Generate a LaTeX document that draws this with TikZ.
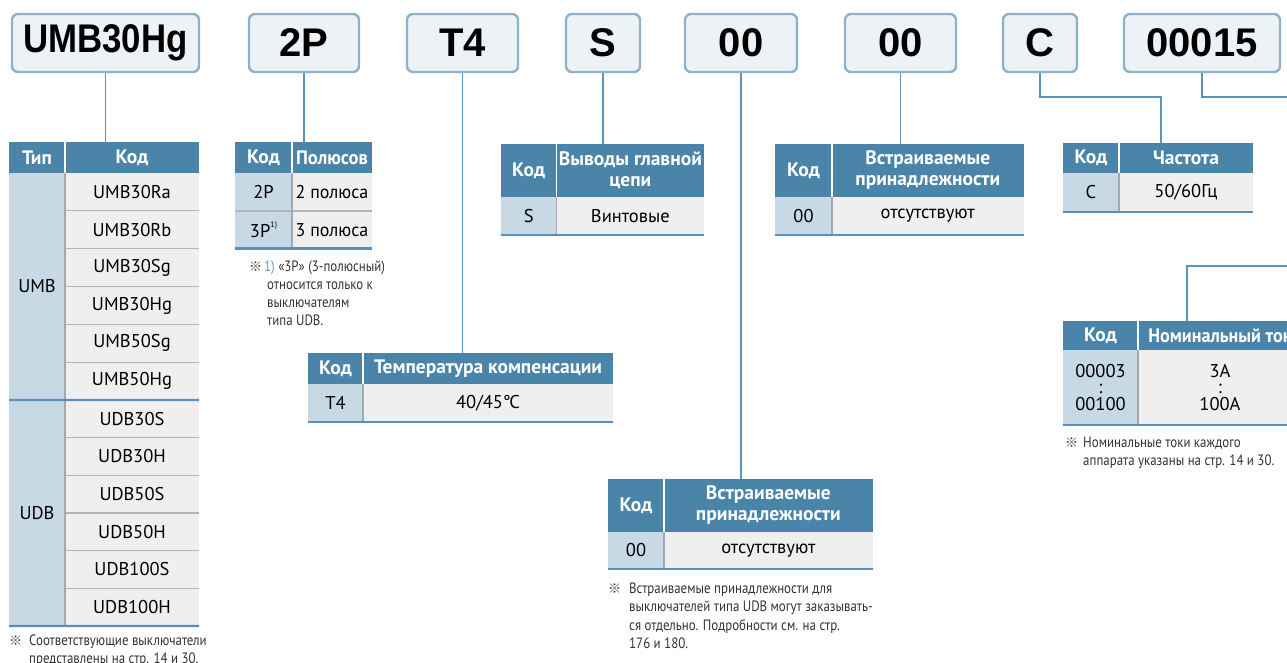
\documentclass[tikz,border=0pt]{standalone}
\usepackage{graphicx}
\usepackage{fontspec}
\setmainfont{PT Sans}
\newfontfamily\bigf{Liberation Sans}
\newfontfamily\notef{PT Sans}[FakeStretch=0.86]
\newfontfamily\cjk{Noto Sans CJK JP}
\definecolor{hdrblue}{HTML}{4A84A9}
\definecolor{codeblue}{HTML}{C6D9E5}
\definecolor{valgray}{HTML}{EFEFEF}
\definecolor{sepgray}{HTML}{B4B4B4}
\definecolor{colgray}{HTML}{A3A9AE}
\definecolor{lineblue}{HTML}{5B8FB9}
\definecolor{connblue}{HTML}{5E93BA}
\definecolor{boxborder}{HTML}{8DB3CC}
\definecolor{boxfill}{HTML}{EDF2F7}
\definecolor{notegray}{HTML}{333333}
\definecolor{noteblue}{HTML}{6E9CC4}
\tikzset{
  codebox/.style={draw=boxborder, fill=boxfill, line width=2.4pt, rounded corners=6pt,
    minimum height=58pt, inner sep=0pt, font=\bigf\bfseries\fontsize{40}{44}\selectfont},
  hdr/.style={fill=hdrblue, text=white, inner sep=0pt, outer sep=0pt, anchor=north west,
    font=\bfseries\fontsize{19.5}{21}\selectfont, align=center},
  kcell/.style={fill=codeblue, inner sep=0pt, outer sep=0pt, anchor=north west,
    font=\fontsize{18.5}{17.5}\selectfont, align=center},
  vcell/.style={fill=valgray, inner sep=0pt, outer sep=0pt, anchor=north west,
    font=\fontsize{18.5}{17.5}\selectfont, align=center},
  tabframe/.style={inner sep=0pt, outer sep=0pt, anchor=north west},
  rowsep/.style={draw=sepgray, line width=1.2pt},
  colsep/.style={draw=colgray, line width=1.5pt},
  hsep/.style={draw=white, line width=1.2pt},
  botline/.style={draw=lineblue, line width=2.2pt},
  conn/.style={draw=connblue, line width=1.6pt},
  notetxt/.style={inner sep=0pt, anchor=base west, text=notegray, font=\notef\fontsize{15}{18}\selectfont},
  refmark/.style={inner sep=0pt, anchor=base west, text=notegray, font=\cjk\fontsize{13}{14}\selectfont}
}
\begin{document}
\begin{tikzpicture}[x=1pt,y=-1pt]
\useasboundingbox (0,0) rectangle (1287,663);
\clip (0,0) rectangle (1287,663);

% ---------- top code boxes ----------
\node[codebox, minimum width=187pt] (b1) at (105.5,43) {\scalebox{0.87}[1]{UMB30Hg}};
\node[codebox, minimum width=110pt] (b2) at (304,43) {2P};
\node[codebox, minimum width=111pt] (b3) at (462.5,43) {T4};
\node[codebox, minimum width=74pt] (b4) at (603,43) {S};
\node[codebox, minimum width=112pt] (b5) at (741,43) {00};
\node[codebox, minimum width=111pt] (b6) at (900.5,43) {00};
\node[codebox, minimum width=74pt] (b7) at (1040,43) {C};
\node[codebox, minimum width=156pt] (b8) at (1202,43) {00015};

% ---------- table 1: type ----------
\node[tabframe, minimum width=190pt, minimum height=484pt] (t1) at (9,142) {};
\node[hdr, minimum width=56pt, minimum height=31pt] (t1h1) at (9,142) {Тип};
\node[hdr, minimum width=134pt, minimum height=31pt] (t1h2) at (65,142) {Код};
\node[kcell, minimum width=56pt, minimum height=227pt] (t1umb) at (9,173) {UMB};
\node[kcell, minimum width=56pt, minimum height=226pt] (t1udb) at (9,400) {UDB};
\foreach \t [count=\i from 0] in {UMB30Ra,UMB30Rb,UMB30Sg,UMB30Hg,UMB50Sg,UMB50Hg}{
  \node[vcell, minimum width=134pt, minimum height=37.83pt] (t1c\i) at (65,{173+\i*37.833}) {\t};
}
\foreach \t [count=\i from 6] in {UDB30S,UDB30H,UDB50S,UDB50H,UDB100S,UDB100H}{
  \node[vcell, minimum width=134pt, minimum height=37.67pt] (t1c\i) at (65,{400+(\i-6)*37.667}) {\t};
}
\foreach \i in {0,1,2,3,4,6,7,8,9,10}{
  \draw[rowsep] (t1c\i.south west) -- (t1c\i.south east);
}
\draw[colsep] (t1umb.north east) -- (t1udb.south east);
\draw[hsep] (t1h1.north east) -- (t1h1.south east);
\draw[botline] (t1umb.south west) -- (t1c5.south east);
\draw[botline] (t1udb.south west) -- (t1c11.south east);

% ---------- table 2: poles ----------
\node[tabframe, minimum width=137pt, minimum height=106pt] (t2) at (235,142.5) {};
\node[hdr, minimum width=57pt, minimum height=30.5pt] (t2h1) at (235,142.5) {Код};
\node[hdr, minimum width=80pt, minimum height=30.5pt] (t2h2) at (292,142.5) {\scalebox{0.95}[1]{Полюсов}};
\node[kcell, minimum width=57pt, minimum height=38pt] (t2k1) at (235,173) {2P};
\node[vcell, minimum width=80pt, minimum height=38pt] (t2v1) at (292,173) {\scalebox{0.97}[1]{2 полюса}};
\node[kcell, minimum width=57pt, minimum height=37.5pt] (t2k2) at (235,211) {3P\raisebox{0.55em}{\fontsize{8}{8}\selectfont 1)}};
\node[vcell, minimum width=80pt, minimum height=37.5pt] (t2v2) at (292,211) {\scalebox{0.97}[1]{3 полюса}};
\draw[rowsep] (t2k1.south west) -- (t2v1.south east);
\draw[colsep] (t2k1.north east) -- (t2k2.south east);
\draw[hsep] (t2h1.north east) -- (t2h1.south east);
\draw[botline] (t2k2.south west) -- (t2v2.south east);

% ---------- table 3: temperature ----------
\node[tabframe, minimum width=305pt, minimum height=68.7pt] (t3) at (308,353) {};
\node[hdr, minimum width=55pt, minimum height=31pt] (t3h1) at (308,353) {Код};
\node[hdr, minimum width=250pt, minimum height=31pt] (t3h2) at (363,353) {Температура компенсации};
\node[kcell, minimum width=55pt, minimum height=37.7pt] (t3k1) at (308,384) {T4};
\node[vcell, minimum width=250pt, minimum height=37.7pt] (t3v1) at (363,384) {40/45°\kern-1.5ptC};
\draw[colsep] (t3k1.north east) -- (t3k1.south east);
\draw[hsep] (t3h1.north east) -- (t3h1.south east);
\draw[botline] (t3k1.south west) -- (t3v1.south east);

% ---------- table 4: main circuit terminals ----------
\node[tabframe, minimum width=203.3pt, minimum height=91pt] (t4) at (500.7,144) {};
\node[hdr, minimum width=56pt, minimum height=52.7pt] (t4h1) at (500.7,144) {Код};
\node[hdr, minimum width=147.3pt, minimum height=52.7pt] (t4h2) at (556.7,144) {Выводы главной\\цепи};
\node[kcell, minimum width=56pt, minimum height=38.3pt] (t4k1) at (500.7,196.7) {S};
\node[vcell, minimum width=147.3pt, minimum height=38.3pt] (t4v1) at (556.7,196.7) {Винтовые};
\draw[colsep] (t4k1.north east) -- (t4k1.south east);
\draw[hsep] (t4h1.north east) -- (t4h1.south east);
\draw[botline] (t4k1.south west) -- (t4v1.south east);

% ---------- table 5: built-in accessories (top) ----------
\node[tabframe, minimum width=248.5pt, minimum height=91pt] (t5) at (775,144) {};
\node[hdr, minimum width=57pt, minimum height=52.7pt] (t5h1) at (775,144) {Код};
\node[hdr, minimum width=191.5pt, minimum height=52.7pt] (t5h2) at (832,144) {Встраиваемые\\принадлежности};
\node[kcell, minimum width=57pt, minimum height=38.3pt] (t5k1) at (775,196.7) {00};
\node[vcell, minimum width=191.5pt, minimum height=38.3pt] (t5v1) at (832,196.7) {отсутствуют};
\draw[colsep] (t5k1.north east) -- (t5k1.south east);
\draw[hsep] (t5h1.north east) -- (t5h1.south east);
\draw[botline] (t5k1.south west) -- (t5v1.south east);

% ---------- table 6: frequency ----------
\node[tabframe, minimum width=190pt, minimum height=68.7pt] (t6) at (1063,143) {};
\node[hdr, minimum width=56pt, minimum height=30.3pt] (t6h1) at (1063,143) {Код};
\node[hdr, minimum width=134pt, minimum height=30.3pt] (t6h2) at (1119,143) {Частота};
\node[kcell, minimum width=56pt, minimum height=38.4pt] (t6k1) at (1063,173.3) {C};
\node[vcell, minimum width=134pt, minimum height=38.4pt] (t6v1) at (1119,173.3) {50/60Гц};
\draw[colsep] (t6k1.north east) -- (t6k1.south east);
\draw[hsep] (t6h1.north east) -- (t6h1.south east);
\draw[botline] (t6k1.south west) -- (t6v1.south east);

% ---------- table 7: rated current ----------
\node[tabframe, minimum width=239pt, minimum height=104.3pt] (t7) at (1063,320.7) {};
\node[hdr, minimum width=75pt, minimum height=29.3pt] (t7h1) at (1063,320.7) {Код};
\node[hdr, minimum width=164pt, minimum height=29.3pt] (t7h2) at (1138,320.7) {\scalebox{0.93}[1]{Номинальный ток}};
\node[kcell, minimum width=75pt, minimum height=75pt] (t7k1) at (1063,350) {00003\\[-1pt]:\\[-1pt]00100};
\node[vcell, minimum width=164pt, minimum height=75pt] (t7v1) at (1138,350) {3А\\[-1pt]:\\[-1pt]100А};
\draw[colsep] (t7k1.north east) -- (t7k1.south east);
\draw[hsep] (t7h1.north east) -- (t7h1.south east);
\draw[botline] (t7k1.south west) -- (t7v1.south east);

% ---------- table 8: built-in accessories (bottom) ----------
\node[tabframe, minimum width=264.7pt, minimum height=90pt] (t8) at (608,479.3) {};
\node[hdr, minimum width=56pt, minimum height=52.4pt] (t8h1) at (608,479.3) {Код};
\node[hdr, minimum width=208.7pt, minimum height=52.4pt] (t8h2) at (664,479.3) {Встраиваемые\\принадлежности};
\node[kcell, minimum width=56pt, minimum height=37.6pt] (t8k1) at (608,531.7) {00};
\node[vcell, minimum width=208.7pt, minimum height=37.6pt] (t8v1) at (664,531.7) {отсутствуют};
\draw[colsep] (t8k1.north east) -- (t8k1.south east);
\draw[hsep] (t8h1.north east) -- (t8h1.south east);
\draw[botline] (t8k1.south west) -- (t8v1.south east);

% ---------- connectors ----------
\draw[conn] (b1.south) -- (b1.south |- t1.north);
\draw[conn] (b2.south) -- (b2.south |- t2.north);
\draw[conn] (b3.south) -- (b3.south |- t3.north);
\draw[conn] (b4.south) -- (b4.south |- t4.north);
\draw[conn] (b5.south) -- (b5.south |- t8.north);
\draw[conn] (b6.south) -- (b6.south |- t5.north);
\coordinate (k7) at (1160.7,97);
\draw[conn] (b7.south) |- (k7) -- (k7 |- t6.north);
\coordinate (e8) at (1300,97);
\draw[conn] (b8.south) |- (e8);
\coordinate (e9) at (1300,266);
\coordinate (k9) at (1187,266);
\draw[conn] (e9) -- (k9) -- (k9 |- t7.north);

% ---------- notes ----------
\node[refmark] (m1) at (9,645.5) {※};
\node[notetxt] (n1a) at (29,645.5) {Соответствующие выключатели};
\node[notetxt] (n1b) at (29,663.5) {представлены на стр. 14 и 30.};

\node[refmark] (m2) at (249,271) {※};
\node[notetxt] (n2a) at (264,271) {{\color{noteblue}1)} «3P» (3-полюсный)};
\node[notetxt] (n2b) at (267,289) {относится только к};
\node[notetxt] (n2c) at (267,307) {выключателям};
\node[notetxt] (n2d) at (267,325) {типа UDB.};

\node[refmark] (m3) at (608,593) {※};
\node[notetxt] (n3a) at (629,593) {Встраиваемые принадлежности для};
\node[notetxt] (n3b) at (629,611.5) {выключателей типа UDB могут заказывать-};
\node[notetxt] (n3c) at (629,630) {ся отдельно. Подробности см. на стр.};
\node[notetxt] (n3d) at (629,648) {176 и 180.};

\node[refmark] (m4) at (1065,447) {※};
\node[notetxt] (n4a) at (1083,447) {Номинальные токи каждого};
\node[notetxt] (n4b) at (1083,465) {аппарата указаны на стр. 14 и 30.};
\end{tikzpicture}
\end{document}
